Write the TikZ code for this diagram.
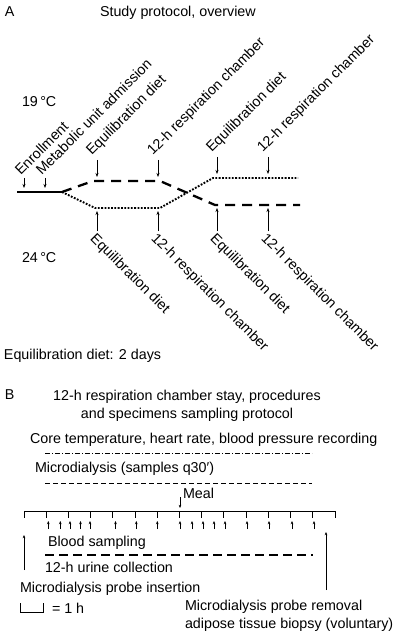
\documentclass[tikz,border=0pt]{standalone}
\usepackage{fontspec}
\setmainfont{Liberation Sans}
\usetikzlibrary{arrows.meta}
\begin{document}
\begin{tikzpicture}[x=1pt,y=-1pt,
  txt/.style={font=\fontsize{14.3}{17}\selectfont, inner sep=0pt, outer sep=0pt},
  lbl/.style={txt, anchor=base west},
  uplbl/.style={txt, rotate=45, anchor=south west},
  dnlbl/.style={txt, rotate=-45, anchor=north west},
  arr/.style={-{Stealth[length=4pt,width=3pt]}, line width=0.6pt},
  sarr/.style={-{Stealth[length=3.2pt,width=2.6pt]}, line width=0.7pt},
  solidline/.style={line width=2pt},
  thickdash/.style={line width=2.3pt, dash pattern=on 10pt off 7pt},
  thickdot/.style={line width=1.9pt, dash pattern=on 1.8pt off 1.5pt},
  ddline/.style={line width=0.8pt, dash pattern=on 5pt off 2pt on 1pt off 2pt},
  mdline/.style={line width=0.8pt, dash pattern=on 5pt off 3pt},
  urline/.style={line width=1.2pt, dash pattern=on 9pt off 5pt},
  tline/.style={line width=0.9pt}]
\useasboundingbox (0,0) rectangle (400,636);

% ---------- Part A ----------
\node[lbl] (labA) at (5,17) {A};
\node[lbl] (titleA) at (100,17) {Study protocol, overview};
\node[lbl] (t19) at (22,107) {19\,°C};
\node[lbl] (t24) at (22,262) {24\,°C};

\coordinate (s0) at (17,192);
\coordinate (j) at (62,192);
\draw[solidline] (s0) -- (j);
\coordinate (u1) at (93,181);
\coordinate (u2) at (160,181);
\coordinate (u3) at (215,205);
\coordinate (u4) at (300,205);
\draw[thickdash] (j) -- (u1) -- (u2) -- (u3) -- (u4);
\coordinate (d1) at (95,208);
\coordinate (d2) at (160,208);
\coordinate (d3) at (213,178);
\coordinate (d4) at (298,178);
\draw[thickdot] (j) -- (d1) -- (d2) -- (d3) -- (d4);

% top arrows
\coordinate (ta1) at (24,178);  \coordinate (tb1) at (24,188);
\coordinate (ta2) at (45,178);  \coordinate (tb2) at (45,188);
\coordinate (ta3) at (97,160);  \coordinate (tb3) at (97,177);
\coordinate (ta4) at (158,160); \coordinate (tb4) at (158,177);
\coordinate (ta5) at (217,157); \coordinate (tb5) at (217,174);
\coordinate (ta6) at (268,157); \coordinate (tb6) at (268,174);
\foreach \i in {1,...,6} {\draw[arr] (ta\i) -- (tb\i);}

\node[uplbl] (lenr) at (21,176) {Enrollment};
\node[uplbl] (lmet) at (42,176) {Metabolic unit admission};
\node[uplbl] (leq1) at (94,158) {Equilibration diet};
\node[uplbl] (lrc1) at (155,158) {12-h respiration chamber};
\node[uplbl] (leq2) at (214,155) {Equilibration diet};
\node[uplbl] (lrc2) at (265,155) {12-h respiration chamber};

% bottom arrows
\coordinate (ba1) at (97,231);  \coordinate (bb1) at (97,211);
\coordinate (ba2) at (158,231); \coordinate (bb2) at (158,211);
\coordinate (ba3) at (217,231); \coordinate (bb3) at (217,208);
\coordinate (ba4) at (268,231); \coordinate (bb4) at (268,208);
\foreach \i in {1,...,4} {\draw[arr] (ba\i) -- (bb\i);}

\node[dnlbl] (deq1) at (97,232) {Equilibration diet};
\node[dnlbl] (drc1) at (158,232) {12-h respiration chamber};
\node[dnlbl] (deq2) at (217,232) {Equilibration diet};
\node[dnlbl] (drc2) at (268,232) {12-h respiration chamber};

\node[lbl] (eqdays) at (4,359) {Equilibration diet: 2 days};

% ---------- Part B ----------
\node[lbl] (labB) at (5,399) {B};
\node[txt, anchor=base] (titleB1) at (187,400) {12-h respiration chamber stay, procedures};
\node[txt, anchor=base] (titleB2) at (187,418) {and specimens sampling protocol};

\node[lbl] (core) at (30,443) {Core temperature, heart rate, blood pressure recording};
\coordinate (dd0) at (45,453); \coordinate (dd1) at (312,453);
\draw[ddline] (dd0) -- (dd1);

\node[lbl] (micro) at (35,472) {Microdialysis (samples q30′)};
\coordinate (md0) at (45,483); \coordinate (md1) at (312,483);
\draw[mdline] (md0) -- (md1);

\node[lbl] (meal) at (183,498) {Meal};
\coordinate (ma) at (180,497); \coordinate (mb) at (180,508);
\draw[sarr] (ma) -- (mb);

% timeline
\coordinate (tl0) at (24,511); \coordinate (tl1) at (335,511);
\draw[tline] (24,517.5) -- (tl0) -- (tl1) -- (335,517.5);
\foreach \h in {1,...,13} {\draw[tline] (24+\h*22.21,511) -- (24+\h*22.21,517.5);}

% blood sampling arrows
\foreach \x in {48.3,60.3,70,80.5,90,115.5,136.3,157.3,180,192,203,214,225,247,269,292,314}
  {\draw[sarr] (\x,529) -- (\x,521);}

\coordinate (ia) at (24,570); \coordinate (ib) at (24,535);
\draw[sarr] (ia) -- (ib);

\node[lbl] (blood) at (48,546) {Blood sampling};
\coordinate (ur0) at (45,555); \coordinate (ur1) at (313,555);
\draw[urline] (ur0) -- (ur1);
\node[lbl] (urine) at (45,572) {12-h urine collection};
\node[lbl] (ins) at (20,592) {Microdialysis probe insertion};

\coordinate (sb0) at (20,603); \coordinate (sb1) at (43,603);
\draw[tline] (sb0) -- (20,612.5) -- (43,612.5) -- (sb1);
\node[lbl] (oneh) at (52,613) {= 1 h};

\coordinate (ra) at (326,590); \coordinate (rb) at (326,532);
\draw[sarr] (ra) -- (rb);
\node[lbl] (rem1) at (185,610) {Microdialysis probe removal};
\node[lbl] (rem2) at (185,628) {adipose tissue biopsy (voluntary)};
\end{tikzpicture}
\end{document}
